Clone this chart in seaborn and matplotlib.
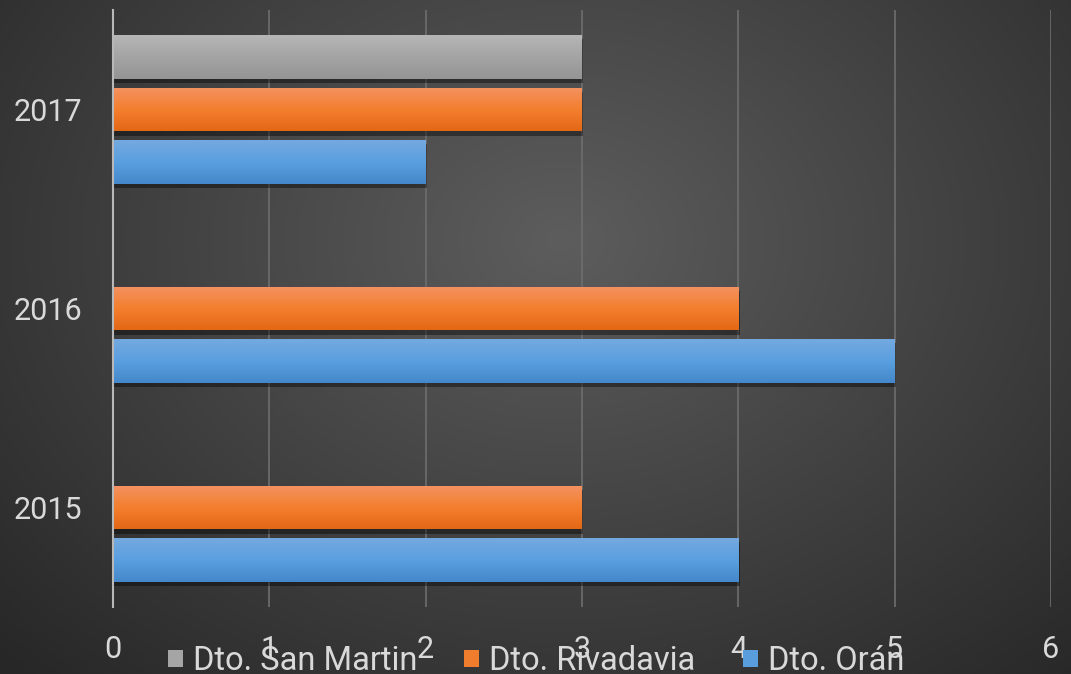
import numpy as np
import pandas as pd
import seaborn as sns
import matplotlib.pyplot as plt
import matplotlib.colors as mcolors
import matplotlib.patheffects as pe
from matplotlib.patches import Patch

# data
years = ["2015", "2016", "2017"]
series = ["Dto. San Martin", "Dto. Rivadavia", "Dto. Orán"]
san_martin = [np.nan, np.nan, 3]
rivadavia = [3, 4, 3]
oran = [4, 5, 2]
x_ticks = [0, 1, 2, 3, 4, 5, 6]

base_colors = {"Dto. San Martin": "#a5a5a5", "Dto. Rivadavia": "#f07c2e", "Dto. Orán": "#5a9ddc"}
grad_colors = {
    "Dto. San Martin": ["#b6b6b6", "#a4a4a4", "#959595"],
    "Dto. Rivadavia": ["#f39262", "#f47f2f", "#e36816"],
    "Dto. Orán": ["#74a9df", "#5a9fe0", "#4488cb"],
}

rows = []
for i, y in enumerate(years):
    rows.append((y, series[0], san_martin[i]))
    rows.append((y, series[1], rivadavia[i]))
    rows.append((y, series[2], oran[i]))
df = pd.DataFrame(rows, columns=["year", "serie", "value"]).dropna()

sns.set_style("white")
plt.rcParams["font.family"] = ["Roboto", "DejaVu Sans"]

fig = plt.figure(figsize=(10.71, 6.74), dpi=100)

# radial background
bg = fig.add_axes([0, 0, 1, 1], zorder=-1)
yy, xx = np.mgrid[0:674, 0:1071]
r = np.sqrt(((xx - 560) / 700.0) ** 2 + ((yy - 240) / 540.0) ** 2)
shade = np.clip(0.365 - 0.19 * r, 0.155, 0.365)
bg.imshow(np.dstack([shade] * 3), aspect="auto", extent=(0, 1, 0, 1), origin="upper")
bg.axis("off")

ax = fig.add_axes([113 / 1071, 1 - 607 / 674, (1051 - 113) / 1071, (607 - 10) / 674])
ax.set_facecolor("none")

sns.barplot(data=df, x="value", y="year", hue="serie", order=years[::-1],
            hue_order=series, orient="h", width=0.792, gap=0.163,
            palette=base_colors, legend=False, ax=ax, zorder=3, linewidth=0)

# vertical gradient + small shadow on each bar
for bar in list(ax.patches):
    w, h = bar.get_width(), bar.get_height()
    if not np.isfinite(w) or w <= 0:
        continue
    fc = bar.get_facecolor()[:3]
    key = min(base_colors, key=lambda k: sum(abs(a - b) for a, b in zip(mcolors.to_rgb(base_colors[k]), fc)))
    c = [mcolors.to_rgb(v) for v in grad_colors[key]]
    t = np.linspace(0, 1, 60)
    grad = np.array([np.interp(t, [0, 0.5, 1], [c[0][k], c[1][k], c[2][k]]) for k in range(3)]).T
    x0, y0 = bar.get_x(), bar.get_y()
    bar.set_edgecolor("none")
    bar.set_path_effects([pe.SimplePatchShadow(offset=(1, -3), alpha=0.4, shadow_rgbFace="black"), pe.Normal()])
    im = ax.imshow(grad[:, None, :], extent=(x0, x0 + w, y0 + h, y0), aspect="auto",
                   origin="upper", zorder=4)
    im.set_clip_path(bar)

ax.set_xlim(0, 6)
ax.set_ylim(2.5, -0.5)
ax.set_xticks(x_ticks)
ax.set_xticklabels([str(v) for v in x_ticks])
ax.set_xlabel("")
ax.set_ylabel("")
ax.grid(axis="x", color="#6e6e6e", linewidth=1.2, zorder=0)
ax.grid(axis="y", visible=False)
for s in ["top", "right", "bottom"]:
    ax.spines[s].set_visible(False)
ax.spines["left"].set_color("#b8b8b8")
ax.spines["left"].set_linewidth(1.5)
ax.spines["left"].set_zorder(5)
ax.tick_params(axis="x", length=0, pad=20, labelsize=22, labelcolor="#d9d9d9")
ax.tick_params(axis="y", length=0, pad=22, labelsize=22, labelcolor="#d9d9d9")

handles = [Patch(facecolor=base_colors[s], edgecolor="none", label=s) for s in series]
fig.legend(handles=handles, loc="center", bbox_to_anchor=(536 / 1071, 1 - 661 / 674),
           ncol=3, frameon=False, fontsize=23.5, labelcolor="#d9d9d9",
           handlelength=0.46, handleheight=0.46, handletextpad=0.3, columnspacing=1.45,
           borderaxespad=0, borderpad=0)

fig.savefig("out.png", dpi=100)
